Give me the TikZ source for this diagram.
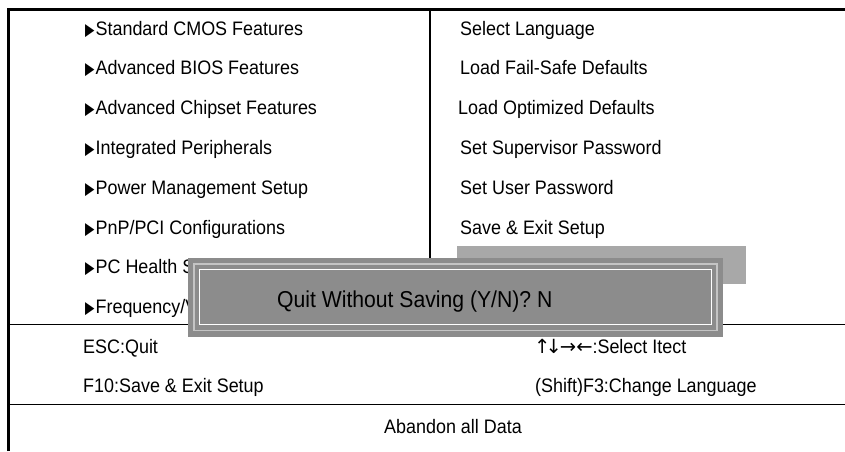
\documentclass[tikz,border=0pt]{standalone}
\usepackage{fontspec}
\setmainfont{Liberation Sans}[FakeStretch=0.92]
\newfontfamily\symfont{DejaVu Sans}
\usetikzlibrary{positioning}

\definecolor{dlggray}{HTML}{8C8C8C}
\definecolor{barggray}{HTML}{A8A8A8}
\definecolor{edgegray}{HTML}{C4C4C4}

\newcommand{\menutri}{{\symfont\fontsize{17}{17}\selectfont\scalebox{0.72}[1]{▶}}\kern1pt}
\newcommand{\keyarrows}{{\symfont ↑\kern-5pt↓\kern-2pt→←}}

\begin{document}
\begin{tikzpicture}
		[x=1pt, y=-1pt,
		 item/.style={anchor=base west, inner sep=0pt, font=\fontsize{19.5}{22}\selectfont},
		 rowline/.style={line width=1.3pt},
		 node distance=39.8pt]
		\useasboundingbox (0,0) rectangle (845,451);
		% outer frame and dividers
		\draw[line width=3.5pt] (8.5,451) -- (8.5,9.5) -- (845,9.5);
		\draw[line width=1.2pt] (430,11) -- (430,258);
		\draw[rowline] (8,324.5) -- (845,324.5);
		\draw[rowline] (8,404.5) -- (845,404.5);
		% left column
		\node[item] (std) at (85,35) {\menutri Standard CMOS Features};
		\node[item, below=of std.base west, anchor=base west] (bios) {\menutri Advanced BIOS Features};
		\node[item, below=of bios.base west, anchor=base west] (chip) {\menutri Advanced Chipset Features};
		\node[item, below=of chip.base west, anchor=base west] (peri) {\menutri Integrated Peripherals};
		\node[item, below=of peri.base west, anchor=base west] (power) {\menutri Power Management Setup};
		\node[item, below=of power.base west, anchor=base west] (pnp) {\menutri PnP/PCI Configurations};
		% these two are cut off by the dialog
		\begin{scope}
			\clip (0,240) rectangle (188,330);
			\node[item, below=of pnp.base west, anchor=base west] (health) {\menutri PC Health S};
			\node[item, below=of health.base west, anchor=base west] (freq) {\menutri Frequency/V};
		\end{scope}
		% right column
		\node[item] (lang) at (460,35) {Select Language};
		\node[item, below=of lang.base west, anchor=base west] (failsafe) {Load Fail-Safe Defaults};
		\node[item, below=of failsafe.base west, anchor=base west, xshift=-2pt] (optim) {Load Optimized Defaults};
		\node[item, below=of failsafe.base west, anchor=base west, yshift=-39.8pt] (superpw) {Set Supervisor Password};
		\node[item, below=of superpw.base west, anchor=base west] (userpw) {Set User Password};
		\node[item, below=of userpw.base west, anchor=base west] (saveexit) {Save \& Exit Setup};
		% highlighted entry
		\fill[barggray] (457,246) rectangle (746,284);
		% key help
		\node[item] (esc) at (83,353) {ESC:Quit};
		\node[item, below=of esc.base west, anchor=base west] (f10) {F10:Save \& Exit Setup};
		\node[item] (arrows) at (534,353) {\keyarrows:Select Itect};
		\node[item, below=of arrows.base west, anchor=base west, xshift=1pt] (shift) {(Shift)F3:Change Language};
		\node[item, anchor=base] (abandon) at (453,433) {Abandon all Data};
		% dialog
		\fill[dlggray] (188,258) rectangle (723,337);
		\draw[edgegray, line width=1.5pt] (194,264) rectangle (717,330.5);
		\draw[white, line width=1.2pt] (199.5,269.5) rectangle (711.5,324.5);
		\node[item, font=\fontsize{23}{26}\selectfont] (quit) at (277,307) {Quit Without Saving (Y/N)? N};
\end{tikzpicture}
\end{document}
